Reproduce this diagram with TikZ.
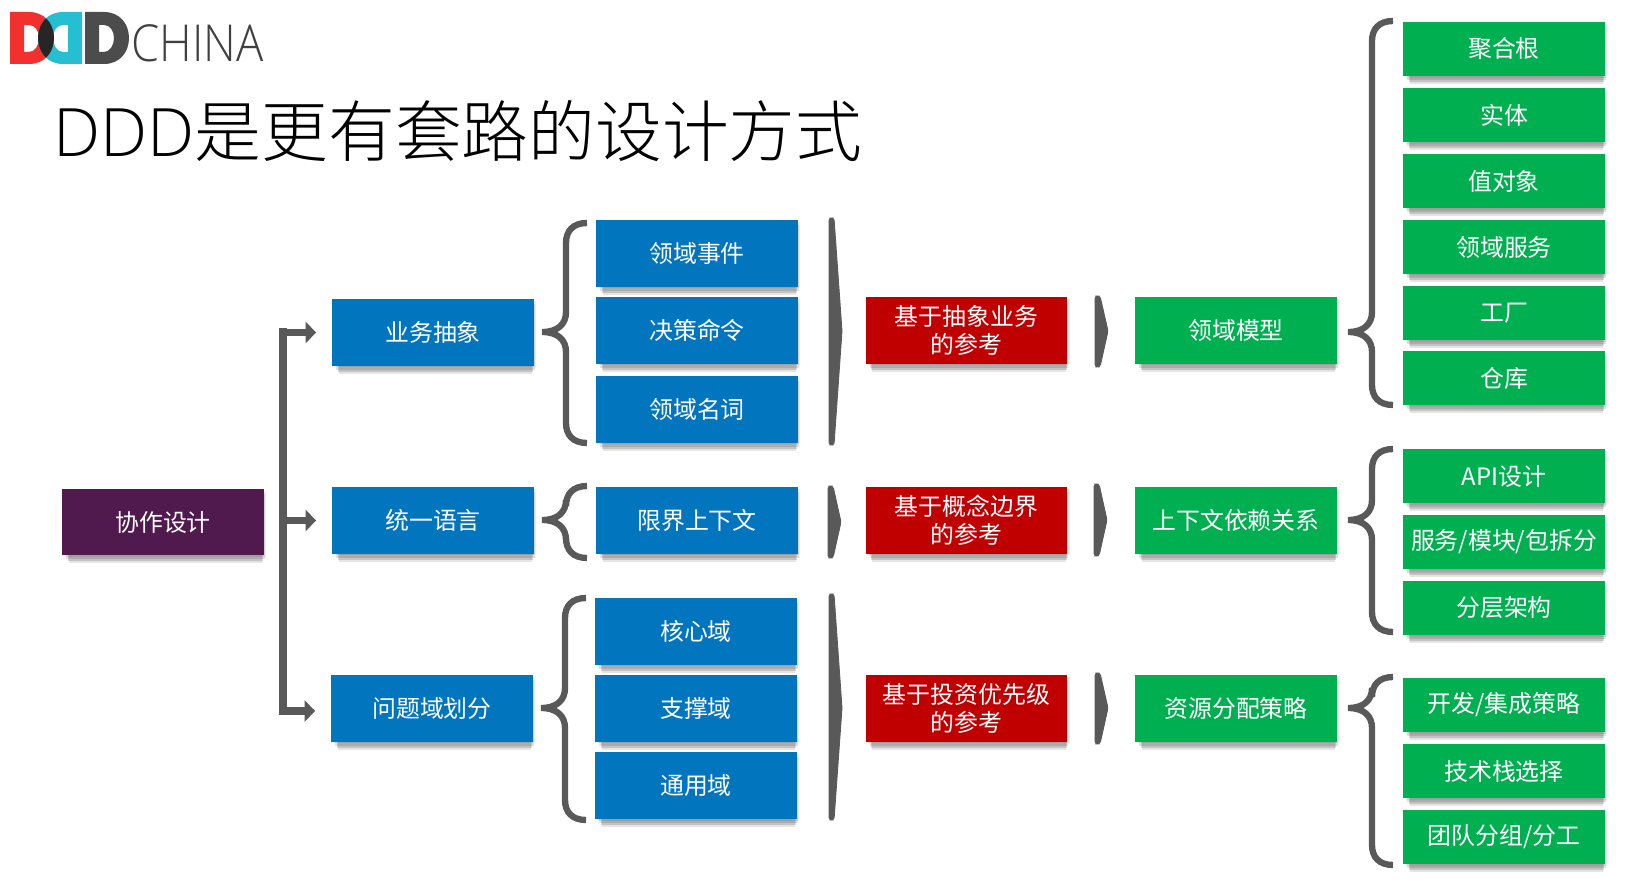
\documentclass[tikz,border=0pt]{standalone}
\usepackage{fontspec}
\setmainfont{Noto Sans CJK SC}
\newfontfamily\titlecjk{Noto Sans CJK SC Light}
\newfontfamily\titlelatin{Open Sans Light}
\newfontfamily\logofont[FakeStretch=0.89]{Open Sans Light}
\usetikzlibrary{arrows.meta,shadows,calc}
\definecolor{boxblue}{HTML}{0275BF}
\definecolor{boxred}{HTML}{C00000}
\definecolor{boxgreen}{HTML}{00B050}
\definecolor{boxpurple}{HTML}{511A4E}
\definecolor{linegrey}{HTML}{595959}
\definecolor{logored}{HTML}{F2302D}
\definecolor{logoteal}{HTML}{26BFD2}
\tikzset{
    softshadow/.style={
        general shadow={fill=black, opacity=0.07, shadow xshift=1.5pt, shadow yshift=-1pt, shadow scale=1},
        general shadow={fill=black, opacity=0.12, shadow xshift=1.5pt, shadow yshift=-2.5pt, shadow scale=0.985},
        general shadow={fill=black, opacity=0.15, shadow xshift=1.5pt, shadow yshift=-4pt, shadow scale=0.97},
        general shadow={fill=black, opacity=0.1, shadow xshift=1.5pt, shadow yshift=-5.5pt, shadow scale=0.96}},
    box/.style={rectangle, inner sep=0pt, text=white, align=center, minimum width=4.03cm, minimum height=1.33cm,
        font=\fontsize{13.6}{16}\selectfont, softshadow},
    bluebox/.style={box, fill=boxblue},
    redbox/.style={box, fill=boxred},
    greenbox/.style={box, fill=boxgreen},
    purplebox/.style={box, fill=boxpurple},
    leafbox/.style={box, fill=boxgreen, minimum height=1.08cm},
    trunkline/.style={draw=linegrey, line width=4.5pt},
    armline/.style={trunkline, -{Triangle[length=6pt,width=12pt]}, shorten >=9pt},
    curlyline/.style={draw=linegrey, line width=3.6pt},
    chevronfill/.style={fill=linegrey, draw=linegrey, line width=0.5pt, rounded corners=1.5pt}
}
% curly bracket: tip x, top y, middle y, bottom y
\newcommand{\curly}[4]{
    \draw[curlyline] (#1+45,#2) .. controls (#1+31,#2) and (#1+24,#2+8) .. (#1+24,#2+20)
        -- (#1+24,#3-20) .. controls (#1+24,#3-8) and (#1+16,#3) .. (#1,#3)
        .. controls (#1+16,#3) and (#1+24,#3+8) .. (#1+24,#3+20)
        -- (#1+24,#4-20) .. controls (#1+24,#4-8) and (#1+31,#4) .. (#1+45,#4);
}
% grey chevron: left x, top y, tip y, bottom y
\newcommand{\chevron}[4]{
    \fill[chevronfill] (#1,#2) -- (#1+5,#2) -- (#1+13,#3) -- (#1+5,#4) -- (#1,#4) -- cycle;
}
\newcommand{\logoouter}{(10,12) -- (29,12) .. controls (45,12) and (54,24) .. (54,38) .. controls (54,52) and (45,64) .. (29,64) -- (10,64) -- cycle}
\newcommand{\logohole}{(24,25) -- (29,25) .. controls (35,25) and (39,31) .. (39,38) .. controls (39,45) and (35,52) .. (29,52) -- (24,52) -- cycle}
\begin{document}
\begin{tikzpicture}[x=0.02cm,y=-0.02cm]
    \useasboundingbox (0,0) rectangle (1634,881);
    % logo
    \fill[logored, even odd rule] \logoouter \logohole;
    \begin{scope}[shift={(92,0)},xscale=-1]
        \fill[logoteal, even odd rule] \logoouter \logohole;
    \end{scope}
    \begin{scope}
        \clip \logoouter;
        \begin{scope}[shift={(92,0)},xscale=-1]
            \fill[black!85] \logoouter;
        \end{scope}
    \end{scope}
    \begin{scope}[shift={(75,0)}]
        \fill[black!70, even odd rule] \logoouter \logohole;
    \end{scope}
    \node[anchor=base west, inner sep=0pt, text=black!75] (logotext) at (131,61.5) {\logofont\fontsize{29}{29}\selectfont CHINA};
    % title
    \node[anchor=base west, inner sep=0pt] (title) at (53,157) {\fontsize{38}{40}\selectfont{\titlelatin DDD}{\titlecjk 是更有套路的设计方式}};
    % first column
    \node[purplebox] (collab) at (163,522) {协作设计};
    % second column
    \node[bluebox] (biz) at (433,332.5) {业务抽象};
    \node[bluebox] (lang) at (433,520.5) {统一语言};
    \node[bluebox] (problem) at (432,708.5) {问题域划分};
    % third column
    \node[bluebox] (event) at (697,253.5) {领域事件};
    \node[bluebox] (command) at (697,330.5) {决策命令};
    \node[bluebox] (noun) at (697,409.5) {领域名词};
    \node[bluebox] (context) at (697,520.5) {限界上下文};
    \node[bluebox] (core) at (696,631.5) {核心域};
    \node[bluebox] (support) at (696,708.5) {支撑域};
    \node[bluebox] (generic) at (696,785.5) {通用域};
    % reference column
    \node[redbox] (refbiz) at (966.5,330.5) {基于抽象业务\\的参考};
    \node[redbox] (refconcept) at (966.5,520.5) {基于概念边界\\的参考};
    \node[redbox] (refinvest) at (966.5,708.5) {基于投资优先级\\的参考};
    % result column
    \node[greenbox] (model) at (1236,330.5) {领域模型};
    \node[greenbox] (depend) at (1236,520.5) {上下文依赖关系};
    \node[greenbox] (resource) at (1236,708.5) {资源分配策略};
    % leaves
    \node[leafbox] (root) at (1504,49) {聚合根};
    \node[leafbox] (entity) at (1504,115) {实体};
    \node[leafbox] (value) at (1504,181) {值对象};
    \node[leafbox] (service) at (1504,247) {领域服务};
    \node[leafbox] (factory) at (1504,313) {工厂};
    \node[leafbox] (repo) at (1504,378) {仓库};
    \node[leafbox] (api) at (1504,476) {API设计};
    \node[leafbox] (split) at (1504,542) {服务/模块/包拆分};
    \node[leafbox] (layer) at (1504,608) {分层架构};
    \node[leafbox] (devstrategy) at (1504,705) {开发/集成策略};
    \node[leafbox] (techstack) at (1504,771) {技术栈选择};
    \node[leafbox] (team) at (1504,837) {团队分组/分工};
    % trunk with three arms
    \coordinate (trunktop) at (283,0 |- biz.west);
    \coordinate (trunkmid) at (283,0 |- lang.west);
    \coordinate (trunkbot) at (283,711);
    \draw[trunkline] ($(trunktop)+(0,-4)$) -- ($(trunkbot)+(0,4)$);
    \draw[armline] (trunktop) -- (biz.west);
    \draw[armline] (trunkmid) -- (lang.west);
    \draw[armline] (trunkbot) -- (trunkbot -| problem.west);
    % curly brackets
    \curly{542}{223}{332}{443}
    \curly{542}{486}{520}{558}
    \curly{541}{598}{708}{820}
    \curly{1348}{21}{332}{405}
    \curly{1348}{449}{520}{632}
    \curly{1348}{677}{708}{865}
    % chevrons
    \chevron{829}{218}{331}{445}
    \chevron{828}{486}{522}{558}
    \chevron{829}{594}{708}{820}
    \chevron{1095}{296}{331}{367}
    \chevron{1094}{484}{520}{556}
    \chevron{1095}{673}{708}{744}
\end{tikzpicture}
\end{document}
